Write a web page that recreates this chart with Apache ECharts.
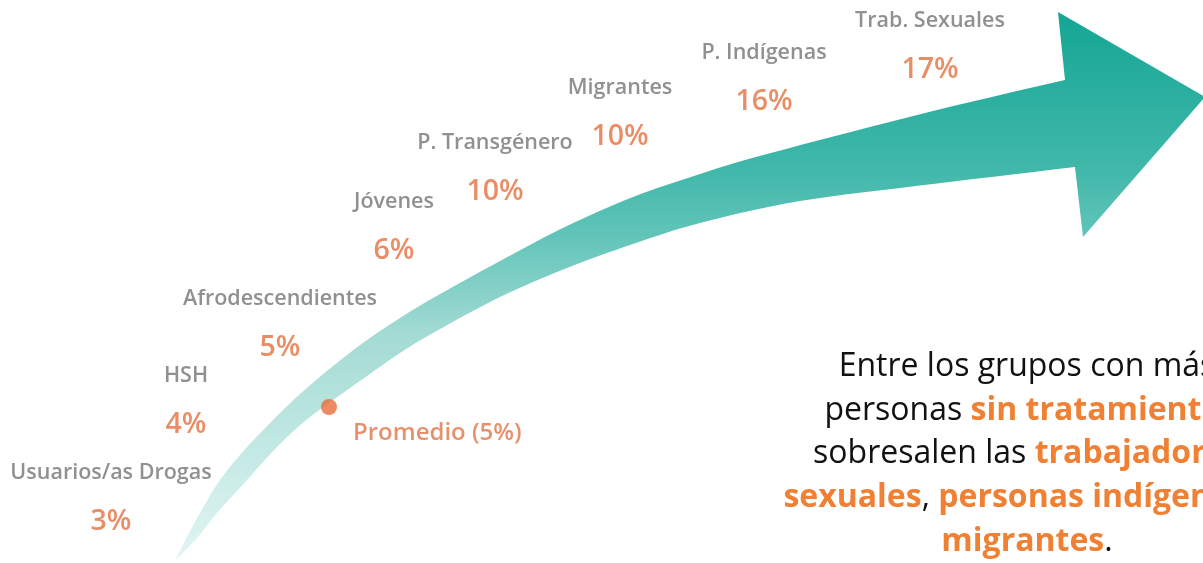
<!DOCTYPE html>
<html>
<head>
<meta charset="utf-8">
<title>Grupos sin tratamiento</title>
<script src="https://cdn.jsdelivr.net/npm/echarts@6/dist/echarts.min.js"></script>
<style>
  html, body { margin: 0; padding: 0; background: #fff; }
  #chart { width: 1203px; height: 563px; }
</style>
</head>
<body>
<div id="chart"></div>
<script>
  // data
  var groups = ['Usuarios/as Drogas', 'HSH', 'Afrodescendientes', 'Jóvenes',
    'P. Transgénero', 'Migrantes', 'P. Indígenas', 'Trab. Sexuales'];
  var shares = [3, 4, 5, 6, 10, 10, 16, 17];
  var average = 5;

  // where each label block sits along the arrow (hidden axes = page pixels)
  var slotX = [111, 186, 280, 394, 495, 620, 764, 930];
  var slotY = [497, 400, 323, 226, 167, 112, 77, 45];
  var avgSlot = [329, 407];

  // arrow outline, decoration only
  var upperEdge = [[175,561],[188,535],[200,513],[220,480],[247,447],[280,413],[300,394],
    [333,366],[367,340],[400,318],[433,298],[500,261],[567,226],[633,197],
    [700,174],[767,154],[933,111],[1065,80]];
  var headPts = [[1058,12],[1205,97],[1083,237]];
  var lowerEdge = [[1075,167],[933,184],[800,201],[700,223],[633,244],[567,268],
    [500,297],[433,333],[400,353],[367,376],[333,400],[305,421],
    [277,447],[247,480],[217,513],[197,538],[175,561]];

  function spline(pts, n) {
    var out = [];
    for (var i = 0; i < pts.length - 1; i++) {
      var p0 = pts[Math.max(i - 1, 0)], p1 = pts[i], p2 = pts[i + 1], p3 = pts[Math.min(i + 2, pts.length - 1)];
      for (var s = 0; s < n; s++) {
        var t = s / n, t2 = t * t, t3 = t2 * t;
        var pt = [0, 1].map(function (k) {
          return 0.5 * ((2 * p1[k]) + (-p0[k] + p2[k]) * t +
            (2 * p0[k] - 5 * p1[k] + 4 * p2[k] - p3[k]) * t2 +
            (-p0[k] + 3 * p1[k] - 3 * p2[k] + p3[k]) * t3);
        });
        out.push(pt);
      }
    }
    out.push(pts[pts.length - 1]);
    return out;
  }

  var arrowPts = spline(upperEdge, 8).concat(headPts, spline(lowerEdge, 8));

  var groupData = groups.map(function (g, i) {
    return [slotX[i], slotY[i], shares[i], g];
  });

  var orange = '#ef8034';
  var textLines = [
    [['t', 'Entre los grupos con más']],
    [['t', 'personas '], ['b', 'sin tratamiento'], ['t', ',']],
    [['t', 'sobresalen las '], ['b', 'trabajadoras']],
    [['b', 'sexuales'], ['t', ', '], ['b', 'personas indígenas'], ['t', ' y']],
    [['b', 'migrantes'], ['t', '.']]
  ];
  var lineY = [367, 411, 454, 498, 542];

  var chart = echarts.init(document.getElementById('chart'));
  chart.setOption({
    animation: false,
    backgroundColor: '#ffffff',
    grid: { left: 0, right: 0, top: 0, bottom: 0 },
    xAxis: { type: 'value', min: 0, max: 1203, show: false },
    yAxis: { type: 'value', min: 0, max: 563, inverse: true, show: false },
    graphic: [
      {
        type: 'polygon',
        z: 0,
        silent: true,
        shape: { points: arrowPts },
        style: {
          fill: new echarts.graphic.LinearGradient(700, 10, 700, 560, [
            { offset: 0, color: '#14a594' },
            { offset: 0.29, color: '#40b8aa' },
            { offset: 0.41, color: '#62c4b9' },
            { offset: 0.59, color: '#a3dbd4' },
            { offset: 0.85, color: '#cbece8' },
            { offset: 1, color: '#e2f5f2' }
          ], true)
        }
      }
    ].concat(textLines.map(function (line, i) {
      return {
        type: 'text',
        silent: true,
        x: 1027,
        y: lineY[i],
        style: {
          text: line.map(function (s) { return '{' + s[0] + '|' + s[1] + '}'; }).join(''),
          align: 'center',
          verticalAlign: 'middle',
          rich: {
            t: { fontFamily: 'Open Sans', fontSize: 32, fill: '#111111' },
            b: { fontFamily: 'Open Sans', fontSize: 32, fontWeight: 'bold', fill: orange }
          }
        }
      };
    })),
    series: [
      {
        name: 'Grupos',
        type: 'scatter',
        symbolSize: 0,
        silent: true,
        data: groupData,
        label: {
          show: true,
          position: 'inside',
          formatter: function (p) {
            return '{n|' + p.data[3] + '}\n{p|' + p.data[2] + '%}';
          },
          rich: {
            n: { fontFamily: 'Open Sans', fontWeight: 600, fontSize: 21.5, color: '#747474', lineHeight: 49, align: 'center' },
            p: { fontFamily: 'Open Sans', fontWeight: 600, fontSize: 28.5, color: '#e5713f', lineHeight: 49, align: 'center' }
          }
        }
      },
      {
        name: 'Promedio',
        type: 'scatter',
        symbol: 'circle',
        symbolSize: 16,
        silent: true,
        itemStyle: { color: '#e86c3c' },
        data: [[avgSlot[0], avgSlot[1], average]],
        label: {
          show: true,
          position: [32, 34],
          align: 'left',
          verticalAlign: 'middle',
          formatter: function (p) { return 'Promedio (' + p.data[2] + '%)'; },
          fontFamily: 'Open Sans',
          fontWeight: 600,
          fontSize: 24,
          color: '#e07548'
        }
      }
    ]
  });
</script>
</body>
</html>
